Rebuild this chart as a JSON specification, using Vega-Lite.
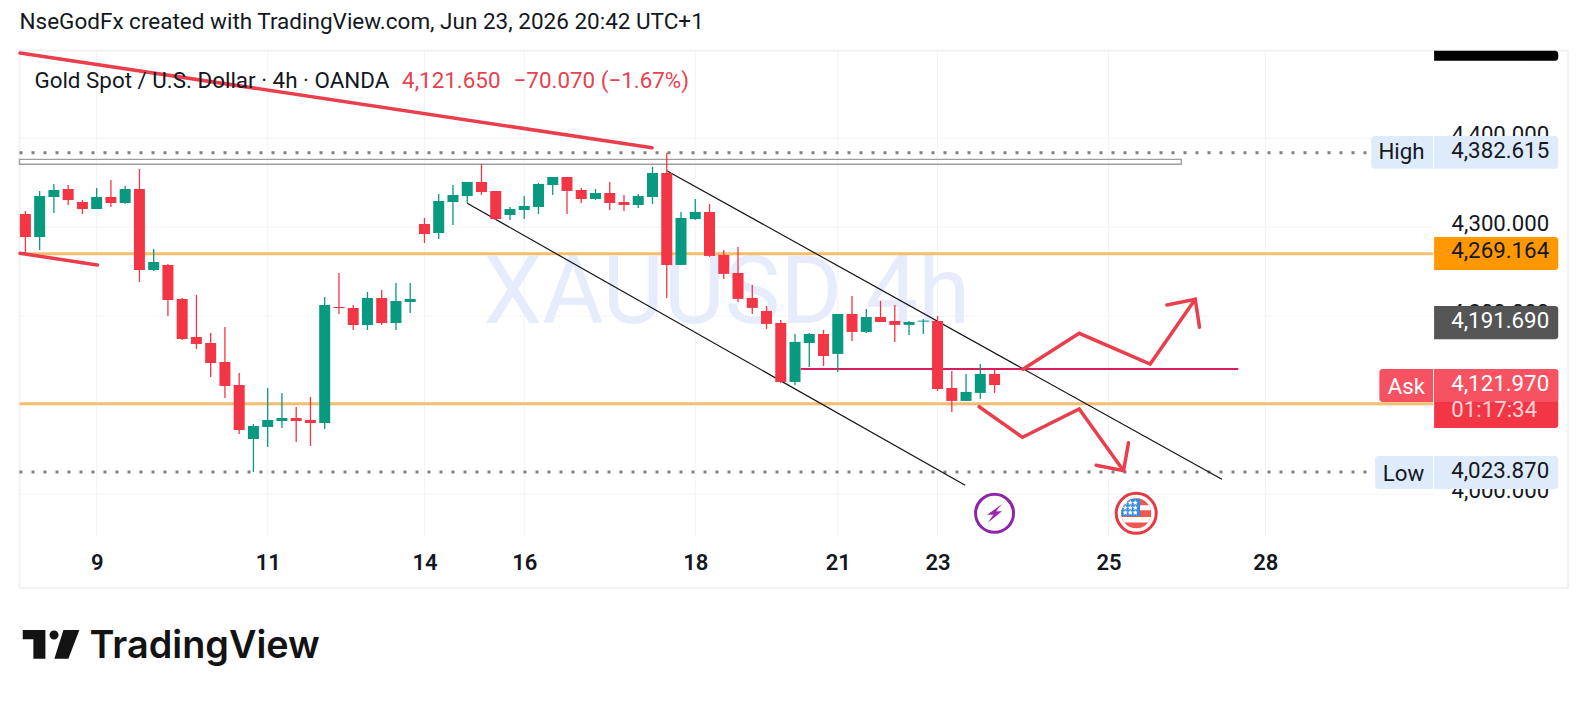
{
"$schema":"https://vega.github.io/schema/vega-lite/v6.json",
"width":1413.6,"height":537.3,
"autosize":{"type":"none"},
"padding":{"left":19.5,"top":50.7,"right":153.9,"bottom":114},
"background":"#ffffff",
"config":{"view":{"stroke":null},"font":"Roboto"},
"resolve":{"scale":{"color":"independent"}},
"title":{"text":"NseGodFx created with TradingView.com, Jun 23, 2026 20:42 UTC+1","anchor":"start","frame":"group","font":"Roboto","fontSize":22.5,"fontWeight":400,"color":"#131722","offset":13},
"datasets":{
"frame":[{"i":-0.414,"i2":108.25,"p":4497.3,"p2":3893.6}],
"daygrid":[{"i":5,"p":4497.3,"p2":3951.2},{"i":17,"p":4497.3,"p2":3951.2},{"i":28,"p":4497.3,"p2":3951.2},{"i":35,"p":4497.3,"p2":3951.2},{"i":47,"p":4497.3,"p2":3951.2},{"i":57,"p":4497.3,"p2":3951.2},{"i":64,"p":4497.3,"p2":3951.2},{"i":76,"p":4497.3,"p2":3951.2},{"i":87,"p":4497.3,"p2":3951.2}],
"watermark":[{"i":49.2,"p":4222.8,"label":"XAUUSD 4h"}],
"range":[{"i":-0.414,"i2":81.1,"p":4375.3,"p2":4369.7}],
"levels":[{"i":-0.414,"i2":98.77,"p":4269.164},{"i":-0.414,"i2":98.77,"p":4100.5}],
"extremes":[{"i":-0.414,"i2":94.43,"p":4382.615},{"i":-0.414,"i2":94.43,"p":4023.87}],
"ask":[{"i":54.4,"i2":85.1,"p":4139.7}],
"channel":[{"s":"upper","n":0,"i":45.0,"p":4362.5},{"s":"upper","n":1,"i":83.95,"p":4015.7},{"s":"lower","n":0,"i":31.0,"p":4325.8},{"s":"lower","n":1,"i":65.94,"p":4009.0}],
"drawn":[
{"s":"a","n":0,"i":-0.38,"p":4494.7},{"s":"a","n":1,"i":43.97,"p":4388.3},
{"s":"b","n":0,"i":-0.38,"p":4269.7},{"s":"b","n":1,"i":5.05,"p":4256.5},
{"s":"up","n":0,"i":69.99,"p":4139.3},{"s":"up","n":1,"i":73.94,"p":4179.8},{"s":"up","n":2,"i":78.92,"p":4145.3},{"s":"up","n":3,"i":82.08,"p":4218.0},
{"s":"uphead","n":0,"i":80.09,"p":4211.6},{"s":"uphead","n":1,"i":82.08,"p":4218.0},{"s":"uphead","n":2,"i":82.38,"p":4186.5},
{"s":"down","n":0,"i":66.92,"p":4097.3},{"s":"down","n":1,"i":69.96,"p":4062.9},{"s":"down","n":2,"i":73.94,"p":4094.7},{"s":"down","n":3,"i":77.05,"p":4025.4},
{"s":"downhead","n":0,"i":75.13,"p":4031.5},{"s":"downhead","n":1,"i":77.05,"p":4025.4},{"s":"downhead","n":2,"i":77.4,"p":4056.9}
],
"candles":[
{"i":0,"open":4313.8,"high":4317.2,"low":4268.9,"close":4288.0,"dir":"down"},
{"i":1,"open":4288.0,"high":4339.7,"low":4273.4,"close":4334.0,"dir":"up"},
{"i":2,"open":4332.9,"high":4347.5,"low":4314.9,"close":4340.8,"dir":"up"},
{"i":3,"open":4341.9,"high":4346.4,"low":4323.9,"close":4329.5,"dir":"down"},
{"i":4,"open":4327.3,"high":4329.5,"low":4313.8,"close":4319.4,"dir":"down"},
{"i":5,"open":4319.4,"high":4343.0,"low":4319.4,"close":4332.9,"dir":"up"},
{"i":6,"open":4332.9,"high":4352.0,"low":4321.7,"close":4326.2,"dir":"down"},
{"i":7,"open":4326.2,"high":4345.3,"low":4325.1,"close":4341.9,"dir":"up"},
{"i":8,"open":4341.9,"high":4364.4,"low":4237.4,"close":4250.9,"dir":"down"},
{"i":9,"open":4250.9,"high":4274.5,"low":4249.8,"close":4259.9,"dir":"up"},
{"i":10,"open":4256.5,"high":4257.6,"low":4199.2,"close":4217.2,"dir":"down"},
{"i":11,"open":4218.3,"high":4219.4,"low":4172.2,"close":4173.4,"dir":"down"},
{"i":12,"open":4175.6,"high":4222.8,"low":4162.1,"close":4167.8,"dir":"down"},
{"i":13,"open":4168.9,"high":4180.1,"low":4130.7,"close":4146.4,"dir":"down"},
{"i":14,"open":4147.5,"high":4186.9,"low":4107.1,"close":4120.6,"dir":"down"},
{"i":15,"open":4121.7,"high":4135.2,"low":4066.6,"close":4071.1,"dir":"down"},
{"i":16,"open":4061.0,"high":4077.9,"low":4023.9,"close":4075.6,"dir":"up"},
{"i":17,"open":4074.5,"high":4118.3,"low":4052.0,"close":4082.4,"dir":"up"},
{"i":18,"open":4081.2,"high":4112.7,"low":4073.4,"close":4084.6,"dir":"up"},
{"i":19,"open":4084.6,"high":4097.0,"low":4057.7,"close":4081.2,"dir":"down"},
{"i":20,"open":4082.4,"high":4108.2,"low":4053.2,"close":4079.0,"dir":"down"},
{"i":21,"open":4079.0,"high":4220.6,"low":4072.3,"close":4211.6,"dir":"up"},
{"i":22,"open":4209.3,"high":4247.5,"low":4201.5,"close":4208.2,"dir":"down"},
{"i":23,"open":4208.2,"high":4211.6,"low":4183.5,"close":4189.1,"dir":"down"},
{"i":24,"open":4189.1,"high":4226.2,"low":4183.5,"close":4219.4,"dir":"up"},
{"i":25,"open":4219.4,"high":4228.4,"low":4189.1,"close":4191.3,"dir":"down"},
{"i":26,"open":4191.3,"high":4236.3,"low":4183.5,"close":4216.1,"dir":"up"},
{"i":27,"open":4214.9,"high":4236.3,"low":4202.6,"close":4218.3,"dir":"up"},
{"i":28,"open":4302.6,"high":4309.3,"low":4281.2,"close":4291.3,"dir":"down"},
{"i":29,"open":4292.5,"high":4336.3,"low":4285.7,"close":4328.4,"dir":"up"},
{"i":30,"open":4327.3,"high":4346.4,"low":4301.5,"close":4335.2,"dir":"up"},
{"i":31,"open":4334.0,"high":4349.8,"low":4326.2,"close":4349.8,"dir":"up"},
{"i":32,"open":4349.8,"high":4370.0,"low":4335.2,"close":4338.5,"dir":"down"},
{"i":33,"open":4339.7,"high":4339.7,"low":4307.1,"close":4308.2,"dir":"down"},
{"i":34,"open":4312.7,"high":4321.7,"low":4307.1,"close":4319.4,"dir":"up"},
{"i":35,"open":4318.3,"high":4334.0,"low":4308.2,"close":4322.8,"dir":"up"},
{"i":36,"open":4321.7,"high":4348.6,"low":4313.8,"close":4347.5,"dir":"up"},
{"i":37,"open":4346.4,"high":4355.4,"low":4335.2,"close":4355.4,"dir":"up"},
{"i":38,"open":4355.4,"high":4355.4,"low":4313.8,"close":4339.7,"dir":"down"},
{"i":39,"open":4340.8,"high":4343.0,"low":4326.2,"close":4330.7,"dir":"down"},
{"i":40,"open":4330.7,"high":4341.9,"low":4329.5,"close":4337.4,"dir":"up"},
{"i":41,"open":4337.4,"high":4349.8,"low":4318.3,"close":4326.2,"dir":"down"},
{"i":42,"open":4327.3,"high":4335.2,"low":4317.2,"close":4323.9,"dir":"down"},
{"i":43,"open":4323.9,"high":4336.3,"low":4320.6,"close":4334.0,"dir":"up"},
{"i":44,"open":4332.9,"high":4366.6,"low":4325.1,"close":4359.9,"dir":"up"},
{"i":45,"open":4359.9,"high":4382.6,"low":4219.4,"close":4256.5,"dir":"down"},
{"i":46,"open":4256.6,"high":4316.1,"low":4256.6,"close":4309.4,"dir":"up"},
{"i":47,"open":4308.2,"high":4330.7,"low":4307.1,"close":4316.1,"dir":"up"},
{"i":48,"open":4316.1,"high":4325.1,"low":4265.6,"close":4266.7,"dir":"down"},
{"i":49,"open":4267.8,"high":4273.4,"low":4240.8,"close":4246.5,"dir":"down"},
{"i":50,"open":4247.6,"high":4276.8,"low":4215.0,"close":4218.4,"dir":"down"},
{"i":51,"open":4219.5,"high":4234.1,"low":4201.5,"close":4208.3,"dir":"down"},
{"i":52,"open":4204.9,"high":4210.5,"low":4184.7,"close":4190.3,"dir":"down"},
{"i":53,"open":4191.4,"high":4194.8,"low":4124.0,"close":4125.1,"dir":"down"},
{"i":54,"open":4125.1,"high":4179.0,"low":4121.7,"close":4170.1,"dir":"up"},
{"i":55,"open":4168.9,"high":4180.2,"low":4142.0,"close":4179.0,"dir":"up"},
{"i":56,"open":4179.0,"high":4183.5,"low":4143.1,"close":4154.3,"dir":"down"},
{"i":57,"open":4156.6,"high":4201.5,"low":4136.3,"close":4201.5,"dir":"up"},
{"i":58,"open":4201.5,"high":4221.7,"low":4171.2,"close":4181.3,"dir":"down"},
{"i":59,"open":4181.3,"high":4207.1,"low":4180.2,"close":4198.1,"dir":"up"},
{"i":60,"open":4198.1,"high":4216.1,"low":4192.5,"close":4192.5,"dir":"down"},
{"i":61,"open":4193.6,"high":4211.6,"low":4170.1,"close":4189.2,"dir":"down"},
{"i":62,"open":4189.2,"high":4193.6,"low":4177.9,"close":4192.5,"dir":"up"},
{"i":63,"open":4192.9,"high":4195.9,"low":4179.0,"close":4194.0,"dir":"up"},
{"i":64,"open":4193.6,"high":4199.3,"low":4115.0,"close":4117.2,"dir":"down"},
{"i":65,"open":4118.4,"high":4137.5,"low":4091.4,"close":4103.8,"dir":"down"},
{"i":66,"open":4103.8,"high":4134.1,"low":4103.8,"close":4113.9,"dir":"up"},
{"i":67,"open":4112.8,"high":4145.3,"low":4106.0,"close":4134.1,"dir":"up"},
{"i":68,"open":4134.1,"high":4138.6,"low":4112.8,"close":4121.65,"dir":"down"}
],
"tags":[
{"tag":"black","i":98.84,"i2":107.55,"p":4497.3,"p2":4486.1},
{"tag":"pale","i":98.84,"i2":107.55,"p":4401.5,"p2":4364.7},
{"tag":"orange","i":98.84,"i2":107.55,"p":4288.0,"p2":4250.9},
{"tag":"grey","i":98.84,"i2":107.55,"p":4210.4,"p2":4173.0},
{"tag":"countdown","i":98.84,"i2":107.55,"p":4139.7,"p2":4073.4},
{"tag":"askprice","i":98.84,"i2":107.55,"p":4139.7,"p2":4102.6},
{"tag":"pale","i":98.84,"i2":107.55,"p":4041.9,"p2":4004.8}
],
"sidetags":[
{"tag":"pale","i":94.43,"i2":98.77,"p":4401.5,"p2":4364.7},
{"tag":"askprice","i":95.0,"i2":98.77,"p":4139.7,"p2":4102.6},
{"tag":"pale","i":94.71,"i2":98.77,"p":4041.9,"p2":4004.8}
],
"tagvalues":[
{"i":100.04,"p":4382.615,"label":"4,382.615","tone":"dark"},
{"i":100.04,"p":4270.0,"label":"4,269.164","tone":"dark"},
{"i":100.04,"p":4191.69,"label":"4,191.690","tone":"light"},
{"i":100.04,"p":4121.0,"label":"4,121.970","tone":"light"},
{"i":100.04,"p":4091.4,"label":"01:17:34","tone":"soft"},
{"i":100.04,"p":4022.8,"label":"4,023.870","tone":"dark"}
],
"taglabels":[
{"i":96.55,"p":4382.615,"label":"High","tone":"dark"},
{"i":96.9,"p":4118.6,"label":"Ask","tone":"light"},
{"i":96.7,"p":4021.0,"label":"Low","tone":"dark"}
],
"legendname":[{"i":0.63,"p":4463.3,"label":"Gold Spot / U.S. Dollar · 4h · OANDA"}],
"legendvalue":[{"i":26.43,"p":4463.3,"label":"4,121.650"},{"i":34.25,"p":4463.3,"label":"−70.070 (−1.67%)"}],
"boltevent":[{"i":68,"p":3977.5}],
"flagevent":[{"i":77.94,"p":3977.5}],
"flagstars":[
{"i":77.17,"p":3989.4},{"i":77.52,"p":3989.4},{"i":77.87,"p":3989.4},
{"i":77.17,"p":3983.8},{"i":77.52,"p":3983.8},{"i":77.87,"p":3983.8},
{"i":77.17,"p":3978.2},{"i":77.52,"p":3978.2},{"i":77.87,"p":3978.2}
],
"logoicon":[{"i":1.8,"p":3830.3}],
"logotext":[{"i":4.5,"p":3814.7,"label":"TradingView"}]
},
"encoding":{
"x":{"field":"i","type":"quantitative","scale":{"domain":[-0.414,98.77],"nice":false,"zero":false,"padding":0},
 "axis":{"title":null,"values":[5,17,28,35,47,57,64,76,87],"labelExpr":"['9','11','14','16','18','21','23','25','28'][indexof([5,17,28,35,47,57,64,76,87],datum.value)]","domain":false,"ticks":false,"grid":false,"offset":-36,"labelPadding":0,"labelFontSize":22,"labelFontWeight":600,"labelFont":"Roboto","labelColor":"#131722","labelOverlap":false,"labelFlush":false}},
"y":{"field":"p","type":"quantitative","scale":{"domain":[3893.6,4497.3],"nice":false,"zero":false},
 "axis":{"title":null,"orient":"right","values":[4000,4100,4200,4300,4400],"format":",.3f","domain":false,"ticks":false,"grid":true,"gridColor":"#F2F3F5","gridWidth":1,"labelPadding":18,"labelOffset":-2.5,"labelFontSize":22.2,"labelFont":"Roboto","labelColor":"#131722","labelOverlap":false,"labelFlush":false}}
},
"layer":[
{"data":{"name":"frame"},"mark":{"type":"rect","fill":"transparent","stroke":"#F1F2F4","strokeWidth":2},"encoding":{"x2":{"field":"i2"},"y2":{"field":"p2"}}},
{"data":{"name":"daygrid"},"mark":{"type":"rule","color":"#F2F3F5","strokeWidth":1},"encoding":{"y2":{"field":"p2"}}},
{"data":{"name":"watermark"},"mark":{"type":"text","font":"Roboto","fontSize":94,"color":"#E6ECFC","align":"center","baseline":"middle"},"encoding":{"text":{"field":"label"}}},
{"data":{"name":"range"},"mark":{"type":"rect","fill":"transparent","stroke":"#9E9E9E","strokeWidth":1.3},"encoding":{"x2":{"field":"i2"},"y2":{"field":"p2"}}},
{"data":{"name":"extremes"},"mark":{"type":"rule","color":"#808080","strokeWidth":3,"strokeDash":[3,9]},"encoding":{"x2":{"field":"i2"}}},
{"data":{"name":"levels"},"mark":{"type":"rule","color":"#F6BE6F","strokeWidth":3},"encoding":{"x2":{"field":"i2"}}},
{"data":{"name":"ask"},"mark":{"type":"rule","color":"#D81E5B","strokeWidth":2},"encoding":{"x2":{"field":"i2"}}},
{"data":{"name":"channel"},"mark":{"type":"line","color":"#131313","strokeWidth":1.2},"encoding":{"detail":{"field":"s"},"order":{"field":"n"}}},
{"data":{"name":"drawn"},"mark":{"type":"line","color":"#EA3E4C","strokeWidth":3.5,"strokeCap":"round","strokeJoin":"miter"},"encoding":{"detail":{"field":"s"},"order":{"field":"n"}}},
{"data":{"name":"candles"},"mark":{"type":"rule","strokeWidth":1.3},"encoding":{
 "y":{"field":"high","type":"quantitative","scale":{"domain":[3893.6,4497.3],"nice":false,"zero":false},
  "axis":{"title":null,"orient":"right","values":[4000,4100,4200,4300,4400],"format":",.3f","domain":false,"ticks":false,"grid":true,"gridColor":"#F2F3F5","gridWidth":1,"labelPadding":18,"labelOffset":-2.5,"labelFontSize":22.2,"labelFont":"Roboto","labelColor":"#131722","labelOverlap":false,"labelFlush":false}},
 "y2":{"field":"low"},
 "color":{"field":"dir","type":"nominal","scale":{"domain":["up","down"],"range":["#089981","#F23645"]},"legend":null}}},
{"data":{"name":"candles"},"mark":{"type":"bar","width":11},"encoding":{
 "y":{"field":"open","type":"quantitative","scale":{"domain":[3893.6,4497.3],"nice":false,"zero":false},
  "axis":{"title":null,"orient":"right","values":[4000,4100,4200,4300,4400],"format":",.3f","domain":false,"ticks":false,"grid":true,"gridColor":"#F2F3F5","gridWidth":1,"labelPadding":18,"labelOffset":-2.5,"labelFontSize":22.2,"labelFont":"Roboto","labelColor":"#131722","labelOverlap":false,"labelFlush":false}},
 "y2":{"field":"close"},
 "color":{"field":"dir","type":"nominal","scale":{"domain":["up","down"],"range":["#089981","#F23645"]},"legend":null}}},
{"data":{"name":"boltevent"},"mark":{"type":"point","shape":"circle","size":1444,"filled":true,"fill":"#ffffff","stroke":"#8E24AA","strokeWidth":3,"opacity":1}},
{"data":{"name":"boltevent"},"mark":{"type":"point","filled":true,"size":900,"color":"#9C27B0","opacity":1,"shape":"M.5 -.62 L-.5 .1 L-.08 .1 L-.45 .62 L.5 -.14 L.1 -.14 Z"}},
{"data":{"name":"flagevent"},"mark":{"type":"point","shape":"circle","size":1600,"filled":true,"fill":"#ffffff","stroke":"#E53945","strokeWidth":3,"opacity":1}},
{"data":{"name":"flagevent"},"mark":{"type":"point","shape":"circle","filled":true,"size":900,"color":"#F05650","opacity":1}},
{"data":{"name":"flagevent"},"mark":{"type":"point","filled":true,"size":900,"color":"#ffffff","opacity":1,"shape":"M0 -.54 L.84 -.54 L.98 -.2 L0 -.2 Z M-.97 .24 L.97 .24 L.79 .61 L-.79 .61 Z"}},
{"data":{"name":"flagevent"},"mark":{"type":"point","filled":true,"size":900,"color":"#2E8BE6","opacity":1,"shape":"M.26 -.97 L.26 .17 L-.98 .17 L-.98 -.2 L-.7 -.7 L-.3 -.95 Z"}},
{"data":{"name":"flagstars"},"mark":{"type":"point","filled":true,"size":30,"color":"#ffffff","opacity":1,"shape":"M0 -1 L.29 -.4 L.95 -.31 L.48 .15 L.59 .81 L0 .5 L-.59 .81 L-.48 .15 L-.95 -.31 L-.29 -.4 Z"}},
{"data":{"name":"tags"},"mark":{"type":"rect","cornerRadiusTopRight":3,"cornerRadiusBottomRight":3},"encoding":{"x2":{"field":"i2"},"y2":{"field":"p2"},
 "color":{"field":"tag","type":"nominal","scale":{"domain":["black","pale","orange","grey","countdown","askprice"],"range":["#000000","#DEEBFA","#FF9800","#555555","#F23645","#F65261"]},"legend":null}}},
{"data":{"name":"sidetags"},"mark":{"type":"rect","cornerRadiusTopLeft":3,"cornerRadiusBottomLeft":3},"encoding":{"x2":{"field":"i2"},"y2":{"field":"p2"},
 "color":{"field":"tag","type":"nominal","scale":{"domain":["pale","askprice"],"range":["#DEEBFA","#F65261"]},"legend":null}}},
{"data":{"name":"tagvalues"},"mark":{"type":"text","font":"Roboto","fontSize":22.3,"align":"left","baseline":"middle","dy":-2},"encoding":{"text":{"field":"label"},
 "color":{"field":"tone","type":"nominal","scale":{"domain":["dark","light","soft"],"range":["#131722","#ffffff","#FAD3D7"]},"legend":null}}},
{"data":{"name":"taglabels"},"mark":{"type":"text","font":"Roboto","fontSize":22.3,"align":"center","baseline":"middle","dy":-1},"encoding":{"text":{"field":"label"},
 "color":{"field":"tone","type":"nominal","scale":{"domain":["dark","light"],"range":["#131722","#ffffff"]},"legend":null}}},
{"data":{"name":"legendname"},"mark":{"type":"text","font":"Roboto","fontSize":22.4,"align":"left","baseline":"middle","color":"#131722"},"encoding":{"text":{"field":"label"}}},
{"data":{"name":"legendvalue"},"mark":{"type":"text","font":"Roboto","fontSize":22.4,"align":"left","baseline":"middle","color":"#E8414F"},"encoding":{"text":{"field":"label"}}},
{"data":{"name":"logoicon"},"mark":{"type":"point","filled":true,"size":3204,"color":"#131313","opacity":1,"shape":"M-1 -.505 L-.2 -.505 L-.2 .509 L-.625 .509 L-.625 -.177 L-1 -.177 Z M.436 -.505 L1 -.505 L.612 .509 L.117 .509 Z M-.054 -.329 A.16 .16 0 1 0 .266 -.329 A.16 .16 0 1 0 -.054 -.329 Z"}},
{"data":{"name":"logotext"},"mark":{"type":"text","font":"Inter","fontSize":37.8,"fontWeight":600,"align":"left","baseline":"alphabetic","color":"#131313"},"encoding":{"text":{"field":"label"}}}
]
}
